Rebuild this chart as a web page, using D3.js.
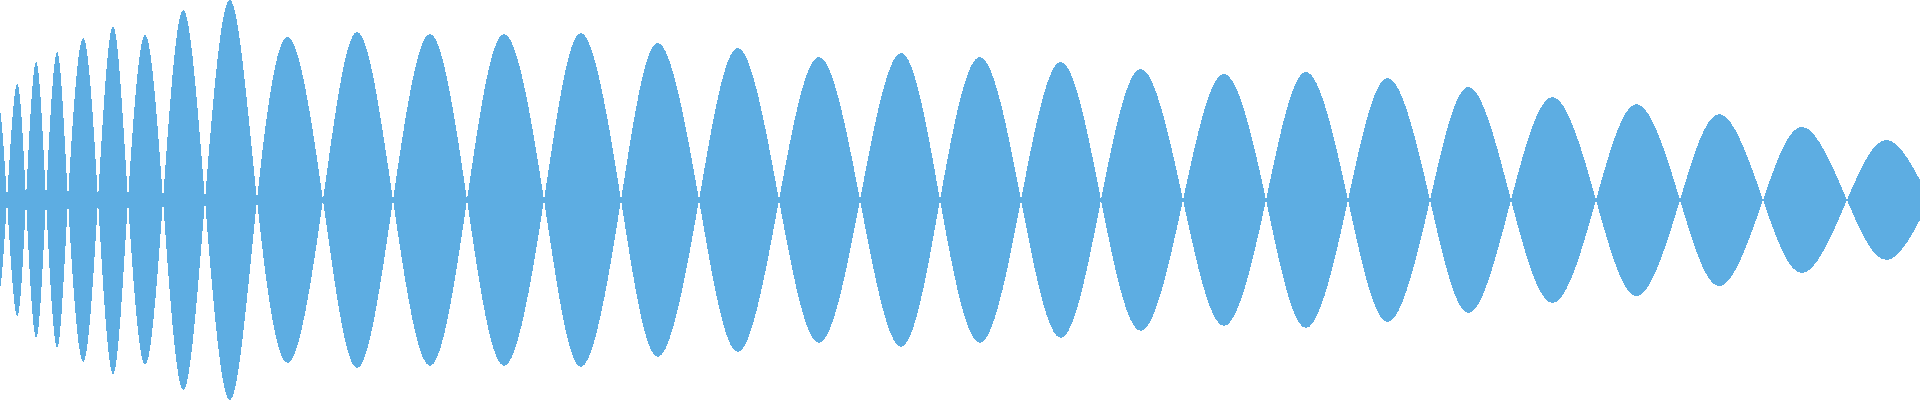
<!DOCTYPE html>
<html>
<head>
<meta charset="utf-8">
<script src="https://cdn.jsdelivr.net/npm/d3@7"></script>
<style>
  html, body { margin: 0; padding: 0; background: #ffffff; overflow: hidden; }
  svg { display: block; }
</style>
</head>
<body>
<svg id="chart" width="1920" height="400"></svg>
<script>
// Zero crossings of the waveform (time units)
const zeroTimes = [-11, 7, 26, 46, 68, 98, 128, 163, 205, 257, 323, 393, 467, 544, 621, 699,
  779, 860, 940, 1021, 1101, 1183, 1266, 1348, 1430, 1511, 1596, 1680, 1763, 1847, 1930];
// Peak (extremum) times of each lobe
const peakTimes = [-2, 17, 36, 57, 83, 113, 145, 183, 230, 288, 357, 430, 504, 581, 658, 738,
  819, 901, 980, 1061, 1141, 1224, 1306, 1388, 1469, 1553, 1637, 1720, 1803, 1887];
// Signed peak amplitudes (alternating sign)
const peakValues = [0.48, -0.58, 0.69, -0.74, 0.81, -0.87, 0.825, -0.95, 1.0, -0.815, 0.84, -0.83,
  0.83, -0.835, 0.785, -0.76, 0.715, -0.735, 0.715, -0.69, 0.655, -0.63, 0.64, -0.61, 0.565,
  -0.515, 0.48, -0.43, 0.365, -0.30];

const W = 1920, H = 400;

// Build the signal points: zero, peak, zero, peak, ...
const signal = [];
for (let i = 0; i < peakTimes.length; i++) {
  signal.push({ t: zeroTimes[i], v: 0 });
  signal.push({ t: peakTimes[i], v: peakValues[i] });
}
signal.push({ t: zeroTimes[zeroTimes.length - 1], v: 0 });

const x = d3.scaleLinear().domain([0, 1920]).range([0, W]);
const y = d3.scaleLinear().domain([-1, 1]).range([H, 0]);

const area = d3.area()
  .x(d => x(d.t))
  .y0(d => y(-d.v))
  .y1(d => y(d.v))
  .curve(d3.curveNatural);

const svg = d3.select("#chart");
svg.append("rect").attr("width", W).attr("height", H).attr("fill", "#ffffff");
svg.append("path")
  .datum(signal)
  .attr("d", area)
  .attr("fill", "#5dade2")
  .attr("shape-rendering", "crispEdges");
</script>
</body>
</html>
